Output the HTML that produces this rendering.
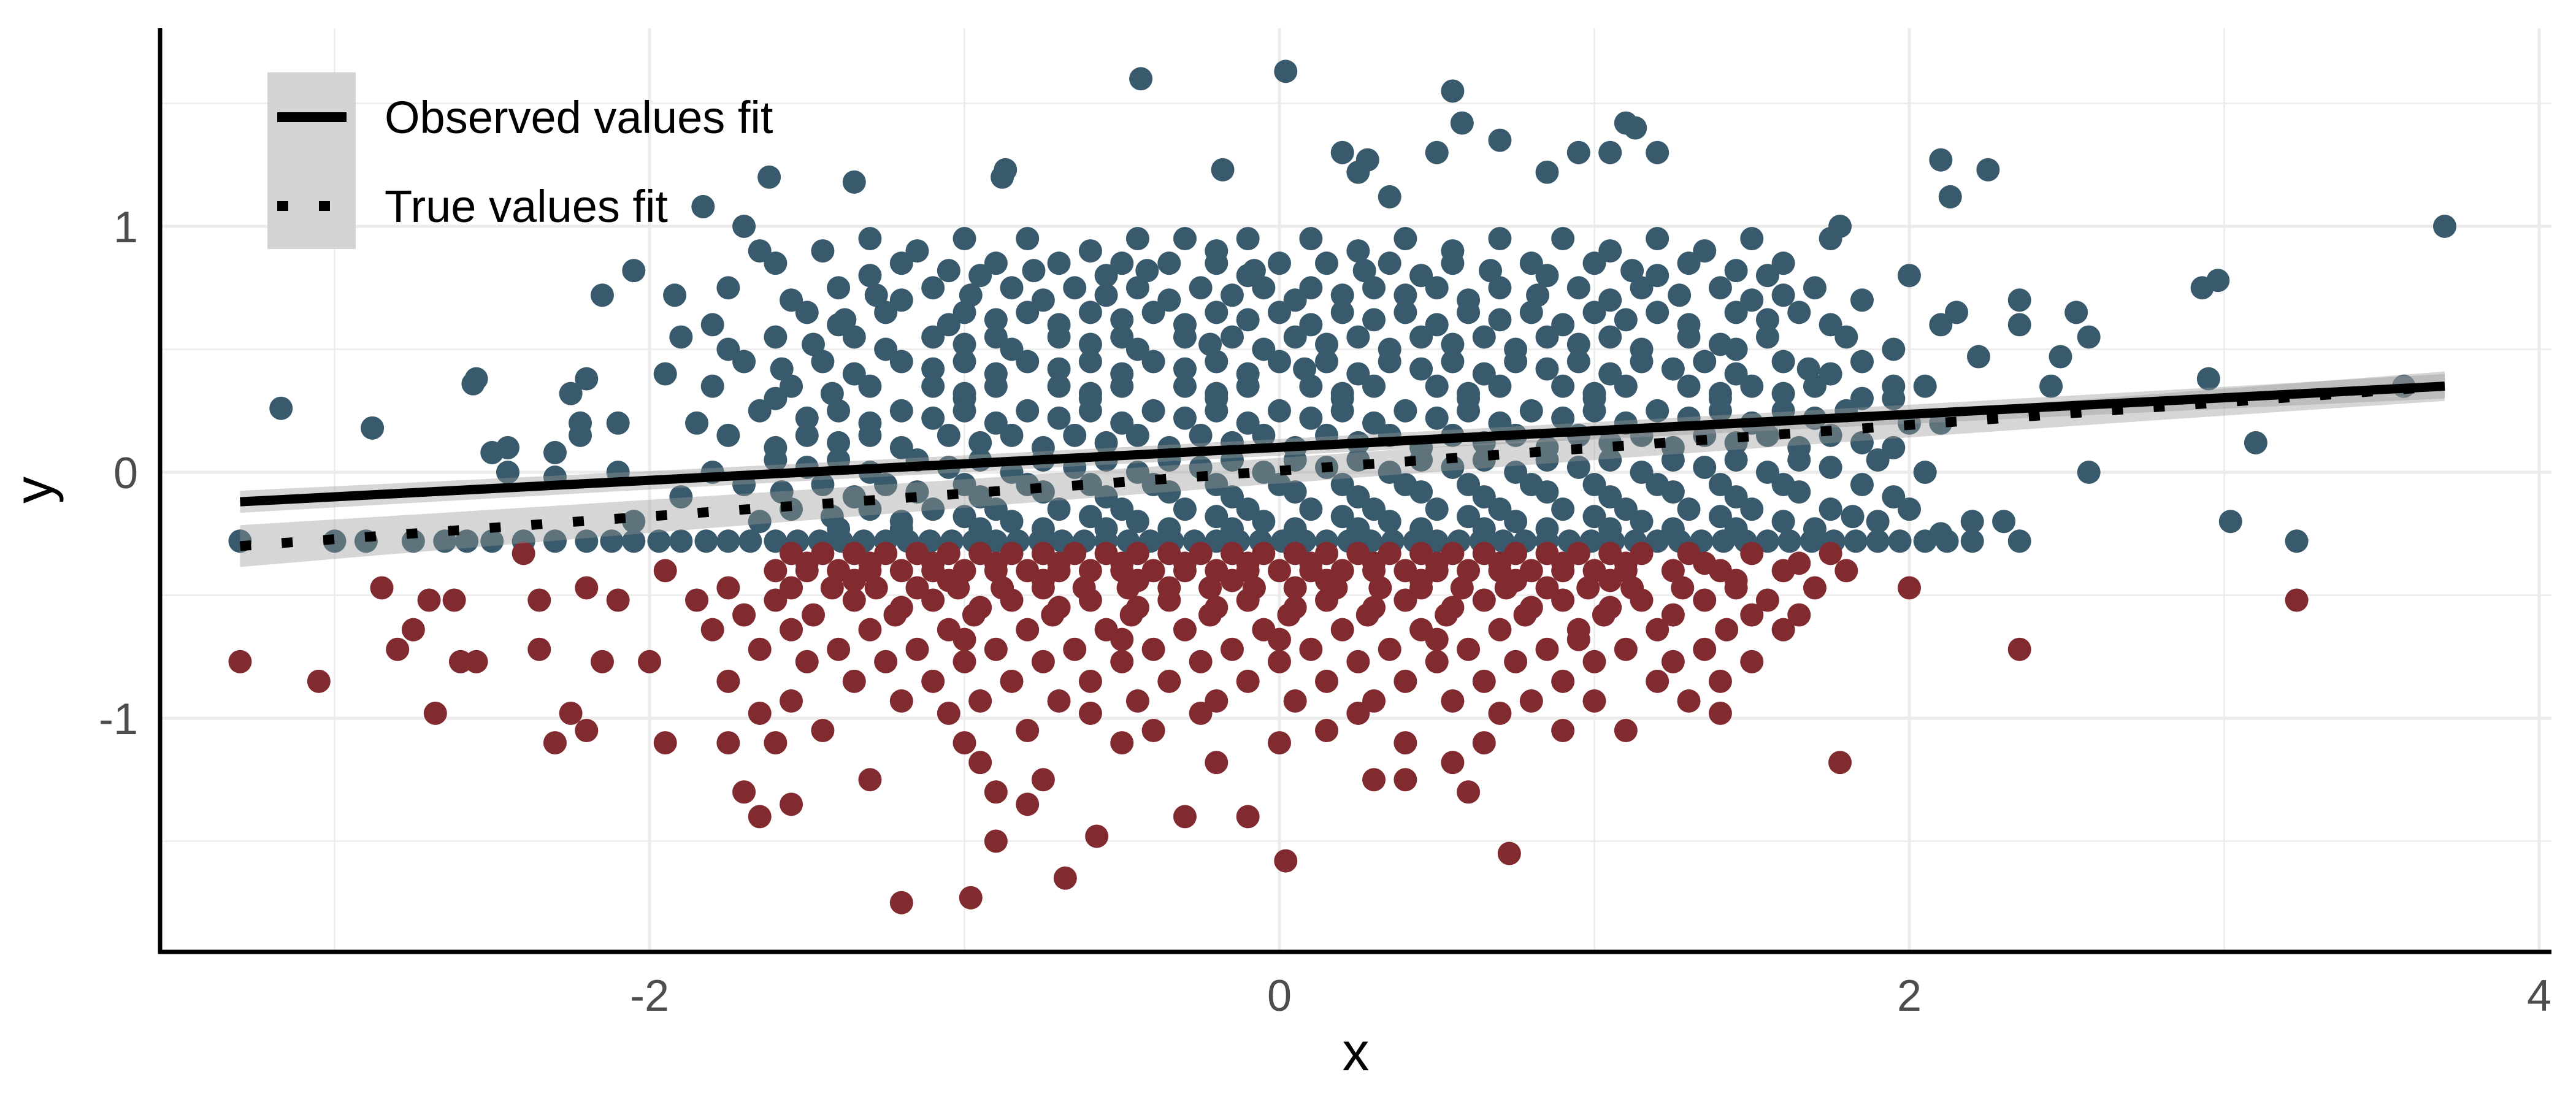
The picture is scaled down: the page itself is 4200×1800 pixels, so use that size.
<!DOCTYPE html>
<html><head><meta charset="utf-8"><style>
html,body{margin:0;padding:0;background:#fff;}
svg{display:block;font-family:"Liberation Sans",sans-serif;}
</style></head><body>
<svg id="chart" width="4200" height="1800" viewBox="0 0 4200 1800">
<g id="grid"></g>
<g id="pts"></g>
<g id="fits"></g>
<g id="axes"></g>
<g>
<rect x="436" y="118" width="144" height="288" fill="#d4d4d4"/>
<line x1="452" y1="191" x2="565" y2="191" stroke="#000" stroke-width="16"/>
<line x1="452" y1="336" x2="565" y2="336" stroke="#000" stroke-width="16" stroke-dasharray="18 50"/>
<text x="627" y="217" font-size="74" fill="#000">Observed values fit</text>
<text x="627" y="362" font-size="74" fill="#000">True values fit</text>
</g>
</svg>
<script>
const NS='http://www.w3.org/2000/svg';
const xTicks=[-2,0,2,4];
const xTickLabels=['-2','0','2','4'];
const xMinor=[-3,-1,1,3];
const yTicks=[-1,0,1];
const yTickLabels=['-1','0','1'];
const yMinor=[-1.5,-0.5,0.5,1.5];
const obsFit=[-3.3,-0.12,3.7,0.35];
const obsBand=[0.045,0.02,0.05];
const trueFit=[-3.3,-0.30,3.7,0.35];
const trueBand=[0.085,0.03,0.06];
const blueRows=[
[1.6,-0.44],[1.63,0.02],[1.55,0.55],[1.42,0.58,1.1],[1.23,-0.87,-0.18,2.25],[1.2,-0.88,-1.62],[1.18,-1.35],[1.08,-1.83],[1.0,-1.7,3.7,1.78],
[1.3,1.2,1.05,0.95,0.5,0.2],[1.35,0.7],[1.4,1.13],[1.27,2.1,0.28],[1.22,0.85,0.25],[1.12,2.13,0.35],[0.9,-1.65],[0.82,-2.05],[0.72,-2.15,-1.92],
[0.8,2.0],[0.6,2.1,2.35],[0.65,2.15,2.53],[0.7,2.35],[0.55,2.57],[0.47,2.48,2.22],[0.75,2.93],[0.78,2.98],[0.38,2.95,-2.55,-2.2],[0.36,-2.56],[0.35,3.57,2.45,2.05],
[0.12,3.1],[-0.2,3.02,2.3,2.2],[0.0,2.57,-2.1,-2.45],[0.1,-2.45],[0.08,-2.5,-2.3],[0.18,-2.88],[0.26,-3.17],[0.2,-2.22,-2.1,2.1],[0.32,-2.25],[0.15,-2.22],[-0.02,-2.3],[-0.25,2.1],[0.3,1.95],[0.95,1.75,1.5],
[0.95,-1.3,-1.0,-0.8,-0.45,-0.3,-0.1,0.1,0.4,0.7,0.9,1.2],
[0.9,-1.45,-1.15,-0.6,-0.2,0.25,0.55,1.05,1.35],
[0.85,-1.6,-1.2,-0.9,-0.7,-0.5,-0.35,-0.2,0.0,0.15,0.35,0.55,0.8,1.0,1.3,1.6],
[0.82,-1.05,-0.78,-0.42,-0.08,0.27,0.67,1.12,1.45],
[0.8,-1.3,-0.95,-0.55,-0.1,0.45,0.85,1.2,1.55],
[0.75,-1.75,-1.4,-1.1,-0.85,-0.65,-0.45,-0.25,-0.05,0.1,0.3,0.5,0.7,0.95,1.15,1.4,1.7],
[0.72,-1.28,-0.98,-0.55,-0.15,0.2,0.4,0.82,1.27,1.6],
[0.7,-1.55,-1.2,-0.75,-0.35,0.05,0.6,1.05,1.5,1.85],
[0.65,-1.5,-1.25,-1.0,-0.8,-0.6,-0.4,-0.2,0.0,0.2,0.4,0.6,0.8,1.0,1.2,1.45,1.65],
[0.62,-1.38,-0.9,-0.5,-0.1,0.3,0.7,1.1,1.55],
[0.6,-1.8,-1.4,-1.05,-0.7,-0.3,0.1,0.5,0.9,1.3,1.75],
[0.55,-1.9,-1.6,-1.35,-1.1,-0.9,-0.7,-0.5,-0.3,-0.15,0.05,0.25,0.45,0.65,0.85,1.05,1.3,1.55,1.8],
[0.52,-1.48,-1.0,-0.6,-0.22,0.15,0.55,0.95,1.4],
[0.5,-1.75,-1.25,-0.85,-0.45,-0.05,0.35,0.75,1.15,1.45,1.95],
[0.45,-1.7,-1.45,-1.2,-1.0,-0.8,-0.6,-0.4,-0.2,0.0,0.15,0.35,0.55,0.75,0.95,1.15,1.35,1.6,1.85],
[0.42,-1.58,-1.1,-0.7,-0.3,0.08,0.45,0.85,1.25,1.68],
[0.4,-1.95,-1.35,-0.9,-0.5,-0.1,0.25,0.65,1.05,1.45,1.75],
[0.35,-1.8,-1.55,-1.3,-1.1,-0.9,-0.7,-0.5,-0.3,-0.1,0.1,0.3,0.5,0.7,0.9,1.1,1.3,1.5,1.7,1.95],
[0.32,-1.42,-1.0,-0.6,-0.2,0.2,0.6,1.0,1.4,1.6],
[0.3,-1.6,-1.0,-0.6,-0.2,0.2,0.6,1.0,1.4,1.85],
[0.25,-1.65,-1.4,-1.2,-1.0,-0.8,-0.6,-0.4,-0.2,0.0,0.2,0.4,0.6,0.8,1.0,1.2,1.4,1.6,1.8],
[0.22,-1.5,-1.1,-0.7,-0.3,0.1,0.5,0.9,1.3,1.7],
[0.2,-1.85,-1.3,-0.9,-0.5,-0.1,0.3,0.7,1.1,1.5,2.0],
[0.15,-1.75,-1.5,-1.3,-1.05,-0.85,-0.65,-0.45,-0.25,-0.05,0.15,0.35,0.55,0.75,0.95,1.15,1.35,1.55,1.75],
[0.12,-1.4,-0.95,-0.55,-0.15,0.25,0.65,1.05,1.45,1.85],
[0.1,-1.6,-1.2,-0.75,-0.35,0.05,0.45,0.85,1.25,1.65,1.95],
[0.05,-1.6,-1.4,-1.15,-0.95,-0.75,-0.55,-0.35,-0.15,0.05,0.25,0.45,0.65,0.85,1.05,1.25,1.45,1.65,1.9],
[0.02,-1.5,-1.05,-0.65,-0.25,0.15,0.55,0.95,1.35,1.75],
[0.0,-1.8,-1.3,-0.85,-0.45,-0.05,0.35,0.75,1.15,1.55,2.05],
[-0.05,-1.7,-1.45,-1.25,-1.0,-0.8,-0.6,-0.4,-0.2,0.0,0.2,0.4,0.6,0.8,1.0,1.2,1.4,1.6,1.85],
[-0.08,-1.58,-1.15,-0.75,-0.35,0.05,0.45,0.85,1.25,1.65],
[-0.1,-1.9,-1.35,-0.95,-0.55,-0.15,0.25,0.65,1.05,1.45,1.95],
[-0.15,-1.55,-1.3,-1.1,-0.9,-0.7,-0.5,-0.3,-0.1,0.1,0.3,0.5,0.7,0.9,1.1,1.3,1.5,1.75,2.0],
[-0.18,-1.42,-1.0,-0.6,-0.2,0.2,0.6,1.0,1.4,1.82],
[-0.2,-2.05,-1.65,-1.2,-0.85,-0.45,-0.05,0.35,0.75,1.15,1.6,1.9],
[-0.23,-1.4,-1.2,-0.95,-0.75,-0.55,-0.35,-0.15,0.05,0.25,0.45,0.65,0.85,1.05,1.25,1.45,1.7],
[-0.28,-3.3,-3.0,-2.9,-2.75,-2.65,-2.58,-2.5,-2.4,-2.3,-2.2,-2.12,-2.05,-1.97,-1.9,-1.82,-1.75,-1.68,-1.6,-1.53,-1.46,-1.39,-1.32,-1.25,-1.18,-1.11,-1.04,-0.97,-0.9,-0.83,-0.76,-0.69,-0.62,-0.55,-0.48,-0.41,-0.34,-0.27,-0.2,-0.13,-0.06,0.01,0.08,0.15,0.22,0.29,0.36,0.43,0.5,0.57,0.64,0.71,0.78,0.85,0.92,0.99,1.06,1.13,1.2,1.27,1.34,1.41,1.48,1.55,1.62,1.69,1.76,1.83,1.9,1.97,2.05,2.12,2.2,2.35,3.23]
];
const redRows=[
[-0.33,-2.4,-1.55,-1.45,-1.35,-1.25,-1.15,-1.05,-0.95,-0.85,-0.75,-0.65,-0.55,-0.45,-0.35,-0.25,-0.15,-0.05,0.05,0.15,0.25,0.35,0.45,0.55,0.65,0.75,0.85,0.95,1.05,1.15,1.3,1.5,1.75],
[-0.37,-1.5,-1.3,-1.1,-0.9,-0.7,-0.5,-0.3,-0.1,0.1,0.3,0.5,0.7,0.9,1.1,1.35,1.65],
[-0.4,-1.95,-1.6,-1.5,-1.4,-1.3,-1.2,-1.1,-1.0,-0.9,-0.8,-0.7,-0.6,-0.5,-0.4,-0.3,-0.2,-0.1,0.0,0.1,0.2,0.3,0.4,0.5,0.6,0.7,0.8,0.9,1.0,1.1,1.25,1.4,1.6,1.8],
[-0.44,-1.35,-1.05,-0.75,-0.45,-0.15,0.15,0.45,0.75,1.05,1.45],
[-0.47,-2.85,-2.2,-1.75,-1.55,-1.42,-1.28,-1.15,-1.02,-0.88,-0.75,-0.62,-0.48,-0.35,-0.22,-0.08,0.05,0.18,0.32,0.45,0.58,0.72,0.85,0.98,1.12,1.28,1.45,1.7,2.0],
[-0.52,-2.7,-2.62,-2.35,-2.1,-1.85,-1.6,-1.35,-1.1,-0.85,-0.6,-0.35,-0.1,0.15,0.4,0.65,0.9,1.15,1.35,1.55,3.23],
[-0.55,-1.2,-0.95,-0.7,-0.45,-0.2,0.05,0.3,0.55,0.8,1.05],
[-0.58,-1.7,-1.48,-1.22,-0.97,-0.72,-0.47,-0.22,0.03,0.28,0.53,0.78,1.03,1.25,1.5,1.65],
[-0.64,-2.75,-1.8,-1.55,-1.3,-1.05,-0.8,-0.55,-0.3,-0.05,0.2,0.45,0.7,0.95,1.2,1.42,1.6],
[-0.68,-1.0,-0.5,0.0,0.5,0.95],
[-0.72,-2.8,-2.35,-1.65,-1.4,-1.15,-0.9,-0.65,-0.4,-0.15,0.1,0.35,0.6,0.85,1.1,1.35,2.35],
[-0.77,-3.3,-2.55,-2.6,-2.15,-2.0,-1.5,-1.25,-1.0,-0.75,-0.5,-0.25,0.0,0.25,0.5,0.75,1.0,1.25,1.5],
[-0.85,-3.05,-1.75,-1.35,-1.1,-0.85,-0.6,-0.35,-0.1,0.15,0.4,0.65,0.9,1.2,1.4],
[-0.93,-1.55,-1.2,-0.95,-0.7,-0.45,-0.2,0.05,0.3,0.55,0.8,1.0,1.3],
[-0.98,-2.68,-2.25,-1.65,-1.05,-0.6,-0.25,0.25,0.7,1.4],
[-1.05,-2.2,-1.45,-0.8,-0.4,0.15,0.9,1.1],
[-1.1,-2.3,-1.95,-1.75,-1.6,-1.0,-0.5,0.0,0.4,0.65],
[-1.18,-0.95,-0.2,0.55,1.78],
[-1.25,-1.3,-0.75,0.3,0.4],
[-1.3,-1.7,-0.9,0.6],
[-1.35,-1.55,-0.8],
[-1.4,-1.65,-0.3,-0.1],
[-1.48,-0.58],[-1.5,-0.9],[-1.55,0.73],[-1.58,0.02],[-1.65,-0.68],[-1.73,-0.98],[-1.75,-1.2]
];
const L=261,R=4160,T=46,B=1552;
const X0=2086,XU=513.5,Y0=770,YU=401;
const sx=v=>X0+v*XU, sy=v=>Y0-v*YU;
function mk(tag,attrs,parent){const e=document.createElementNS(NS,tag);for(const k in attrs)e.setAttribute(k,attrs[k]);parent.appendChild(e);return e;}
const grid=document.getElementById('grid');
xMinor.forEach(v=>{const e=mk('line',{x1:sx(v),x2:sx(v),y1:T,y2:B,stroke:'#ebebeb','stroke-width':2.5},grid);

});
yMinor.forEach(v=>{const e=mk('line',{x1:L,x2:R,y1:sy(v),y2:sy(v),stroke:'#ebebeb','stroke-width':2.5},grid);

});
xTicks.forEach(v=>{const e=mk('line',{x1:sx(v),x2:sx(v),y1:T,y2:B,stroke:'#ebebeb','stroke-width':5},grid);

});
yTicks.forEach(v=>{const e=mk('line',{x1:L,x2:R,y1:sy(v),y2:sy(v),stroke:'#ebebeb','stroke-width':5},grid);

});
const pts=document.getElementById('pts');
function drawRows(rows,color,name){rows.forEach(r=>{const y=r[0];for(let i=1;i<r.length;i++){const c=mk('circle',{cx:sx(r[i]),cy:sy(y),r:19,fill:color},pts);

}});}
drawRows(blueRows,'#395a6c','observed-point');
drawRows(redRows,'#812a2f','censored-true-point');
const fits=document.getElementById('fits');
function band(f,b,name){const [x0,y0,x1,y1]=f;const xm=(x0+x1)/2,ym=(y0+y1)/2;
const d='M'+sx(x0)+','+sy(y0+b[0])+' Q'+sx(xm)+','+sy(ym+b[1])+' '+sx(x1)+','+sy(y1+b[2])+' L'+sx(x1)+','+sy(y1-b[2])+' Q'+sx(xm)+','+sy(ym-b[1])+' '+sx(x0)+','+sy(y0-b[0])+'Z';
const p=mk('path',{d:d,fill:'#999','fill-opacity':0.4},fits);

}
band(trueFit,trueBand,'true-fit-ribbon');
band(obsFit,obsBand,'observed-fit-ribbon');
let l1=mk('line',{x1:sx(obsFit[0]),y1:sy(obsFit[1]),x2:sx(obsFit[2]),y2:sy(obsFit[3]),stroke:'#000','stroke-width':15},fits);


let l2=mk('line',{x1:sx(trueFit[0]),y1:sy(trueFit[1]),x2:sx(trueFit[2]),y2:sy(trueFit[3]),stroke:'#000','stroke-width':16,'stroke-dasharray':'18 50'},fits);


const axes=document.getElementById('axes');
let ax=mk('line',{x1:L-3,x2:R,y1:B,y2:B,stroke:'#000','stroke-width':7},axes);


let ay=mk('line',{x1:L,x2:L,y1:T,y2:B+3,stroke:'#000','stroke-width':7},axes);


xTicks.forEach((v,i)=>{const t=mk('text',{x:sx(v),y:1648,'font-size':72,fill:'#4d4d4d','text-anchor':'middle'},axes);t.textContent=xTickLabels[i];

});
yTicks.forEach((v,i)=>{const t=mk('text',{x:225,y:sy(v)+26,'font-size':72,fill:'#4d4d4d','text-anchor':'end'},axes);t.textContent=yTickLabels[i];

});
let xt=mk('text',{x:(L+R)/2,y:1745,'font-size':88,fill:'#000','text-anchor':'middle'},axes);xt.textContent='x';


let yt=mk('text',{x:0,y:0,'font-size':88,fill:'#000','text-anchor':'middle',transform:'translate(85,'+((T+B)/2)+') rotate(-90)'},axes);yt.textContent='y';


</script>
</body></html>
